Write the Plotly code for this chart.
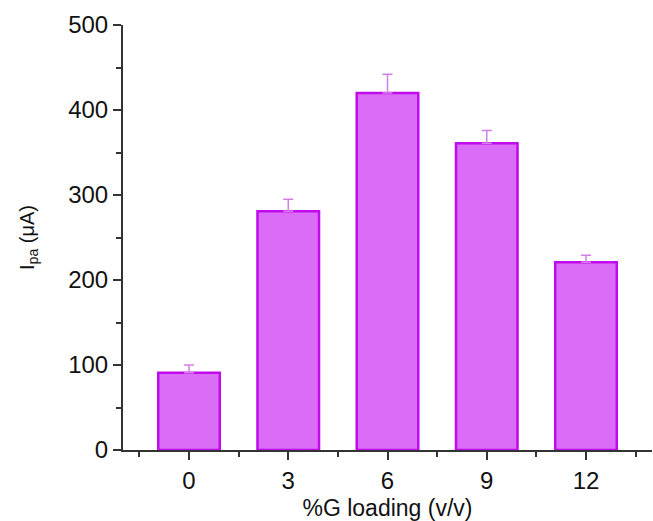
import plotly.graph_objects as go

categories = ["0", "3", "6", "9", "12"]
values = [91, 281, 420, 361, 221]
errors = [9, 14, 22, 15, 8]

xpos = list(range(len(categories)))

fig = go.Figure()
fig.add_trace(go.Bar(
    x=xpos, y=values, width=0.62,
    marker=dict(color="#DA6CF7", line=dict(color="#C10BEB", width=2.5)),
    error_y=dict(type="data", array=errors, arrayminus=[0]*len(errors), symmetric=False,
                 color="#D37DEB", thickness=1.5, width=5),
))

font = "Liberation Sans, Arial, sans-serif"
fig.update_layout(
    width=653, height=521,
    margin=dict(l=123, r=1, t=25, b=71),
    paper_bgcolor="white", plot_bgcolor="white",
    showlegend=False,
    font=dict(family=font, size=24, color="#111"),
    xaxis=dict(
        range=[-0.665, 4.665], tickmode="array", tickvals=xpos, ticktext=categories,
        showline=True, linecolor="#333", linewidth=2, showgrid=False, zeroline=False,
        ticks="outside", ticklen=8, tickwidth=2, tickcolor="#333",
        minor=dict(tickvals=[-0.5, 0.5, 1.5, 2.5, 3.5, 4.5], ticks="outside", ticklen=5, tickwidth=2, tickcolor="#333"),
        title=dict(text="%G loading (v/v)", standoff=10, font=dict(size=23)),
        tickfont=dict(size=24),
    ),
    yaxis=dict(
        range=[0, 500], tickmode="array", tickvals=[0, 100, 200, 300, 400, 500],
        showline=True, linecolor="#333", linewidth=2, showgrid=False, zeroline=False,
        ticks="outside", ticklen=8, tickwidth=2, tickcolor="#333",
        minor=dict(tickvals=[50, 150, 250, 350, 450], ticks="outside", ticklen=5, tickwidth=2, tickcolor="#333"),
        title=dict(text="I<sub>pa</sub> (μA)", standoff=28, font=dict(size=20)),
        tickfont=dict(size=24),
    ),
)

fig.write_html("out.html")
